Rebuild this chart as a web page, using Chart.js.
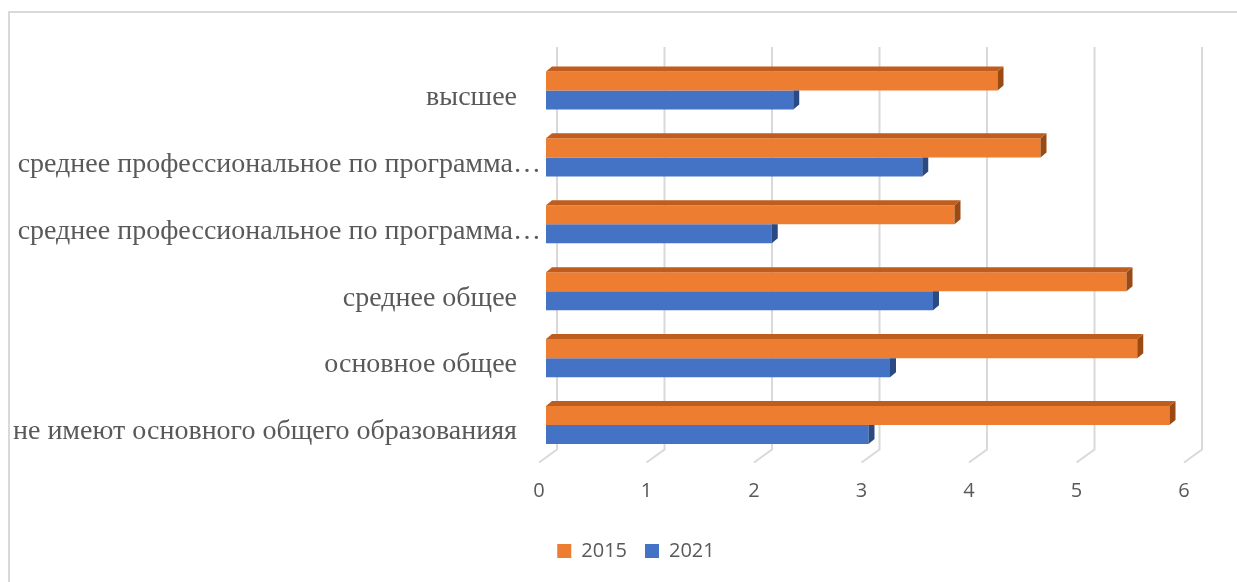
<!DOCTYPE html>
<html>
<head>
<meta charset="utf-8">
<script src="https://cdn.jsdelivr.net/npm/chart.js@4.4.0/dist/chart.umd.min.js"></script>
<style>
  body { margin: 0; background: #fff; }
  #wrap { position: relative; width: 1237px; height: 582px; overflow: hidden; }
  #frame { position: absolute; left: 8px; top: 11px; width: 1300px; height: 700px;
           border: 2px solid #d9d9d9; box-sizing: border-box; }
  canvas { position: absolute; left: 0; top: 0; }
</style>
</head>
<body>
<div id="wrap">
  <div id="frame"></div>
  <canvas id="chart" width="1237" height="582"></canvas>
</div>
<script>
// ── Data ────────────────────────────────────────────────────────────────
const categories = [
  'высшее',
  'среднее профессиональное по программа…',
  'среднее профессиональное по программа…',
  'среднее общее',
  'основное общее',
  'не имеют основного общего образованияя'
];
const values2015 = [4.2, 4.6, 3.8, 5.4, 5.5, 5.8];
const values2021 = [2.3, 3.5, 2.1, 3.6, 3.2, 3.0];
const xTicks     = [0, 1, 2, 3, 4, 5, 6];

const TEXT   = '#595959';
const SANS   = '"Open Sans", "Liberation Sans", sans-serif';
const SERIF  = '"Liberation Serif", "DejaVu Serif", serif';

// 3D depth of bars and of the back wall
const BAR_DX = 6, BAR_DY = 5;

// Back-wall gridlines with a slanted foot on the floor
const wallGrid = {
  id: 'wallGrid',
  beforeDatasetsDraw(chart) {
    const { ctx: c, chartArea: { top, bottom } } = chart;
    const xs = chart.scales.x;
    c.save();
    c.strokeStyle = '#d9d9d9';
    c.lineWidth = 2;
    xTicks.forEach(v => {
      const px = xs.getPixelForValue(v);
      c.beginPath();
      c.moveTo(px + 11, top - 10);
      c.lineTo(px + 11, bottom - 9);
      c.lineTo(px - 7, bottom + 4);
      c.stroke();
    });
    c.restore();
  }
};

// Top and side faces of the bars
const barFaces = {
  id: 'barFaces',
  afterDatasetsDraw(chart) {
    const c = chart.ctx;
    c.save();
    chart.data.datasets.forEach((ds, di) => {
      chart.getDatasetMeta(di).data.forEach(bar => {
        const { x, y, base, height } = bar.getProps(['x', 'y', 'base', 'height'], true);
        const t = y - height / 2, b = y + height / 2;
        c.fillStyle = ds.sideColor;
        c.beginPath();
        if (di === 0) {
          c.moveTo(x, t); c.lineTo(x + BAR_DX, t - BAR_DY);
        } else {
          c.moveTo(x, t); c.lineTo(x + BAR_DX, t);
        }
        c.lineTo(x + BAR_DX, b - BAR_DY);
        c.lineTo(x, b);
        c.closePath();
        c.fill();
        if (di === 0) {
          c.fillStyle = ds.topColor;
          c.beginPath();
          c.moveTo(base, t);
          c.lineTo(base + BAR_DX, t - BAR_DY);
          c.lineTo(x + BAR_DX, t - BAR_DY);
          c.lineTo(x, t);
          c.closePath();
          c.fill();
        }
      });
    });
    c.restore();
  }
};

// Category labels (truncated ones run past the others, as in the original)
const catLabels = {
  id: 'catLabels',
  afterDraw(chart) {
    const c = chart.ctx;
    const ys = chart.scales.y;
    const left = chart.chartArea.left;
    c.save();
    c.font = '28px ' + SERIF;
    c.fillStyle = TEXT;
    c.textAlign = 'right';
    c.textBaseline = 'middle';
    categories.forEach((lab, i) => {
      const right = lab.endsWith('…') ? left - 5 : left - 29;
      c.fillText(lab, right, ys.getPixelForValue(i) + 7);
    });
    c.restore();
  }
};

new Chart(document.getElementById('chart'), {
  type: 'bar',
  data: {
    labels: categories,
    datasets: [
      { label: '2015', data: values2015, backgroundColor: '#ED7D31',
        topColor: '#BE5D1E', sideColor: '#9C4A14' },
      { label: '2021', data: values2021, backgroundColor: '#4472C4',
        topColor: '#34599B', sideColor: '#2C4A82' }
    ]
  },
  options: {
    indexAxis: 'y',
    responsive: false,
    animation: false,
    layout: { padding: { left: 81, right: 46, top: 57, bottom: 11 } },
    datasets: { bar: { categoryPercentage: 0.57, barPercentage: 1, borderWidth: 0 } },
    scales: {
      x: {
        min: 0, max: 6,
        afterBuildTicks: s => { s.ticks = xTicks.map(v => ({ value: v })); },
        afterFit: s => { s.height = 64.5; },
        grid: { display: false, drawTicks: false },
        border: { display: false },
        ticks: { color: TEXT, font: { family: SANS, size: 20 }, padding: 21, labelOffset: -7 }
      },
      y: {
        afterFit: s => { s.width = 465; },
        grid: { display: false, drawTicks: false },
        border: { display: false },
        ticks: { display: false }
      }
    },
    plugins: {
      legend: {
        position: 'bottom',
        labels: { color: TEXT, font: { family: SANS, size: 20 }, boxWidth: 14, boxHeight: 14, padding: 18 }
      },
      tooltip: { enabled: false }
    }
  },
  plugins: [wallGrid, barFaces, catLabels]
});
</script>
</body>
</html>
